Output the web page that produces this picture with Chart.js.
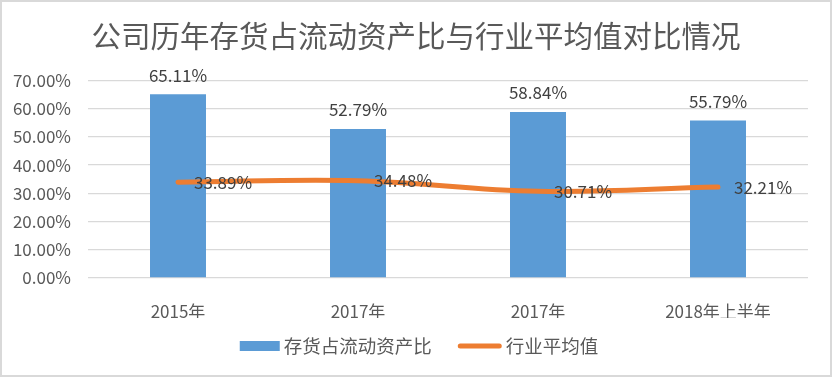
<!DOCTYPE html>
<html>
<head>
    <meta charset="utf-8">
    <title>公司历年存货占流动资产比与行业平均值对比情况</title>
    <script src="https://cdn.jsdelivr.net/npm/chart.js"></script>
    <style>
        body { margin: 0; background: #fff; }
    </style>
</head>
<body>

<canvas id="stockChart" width="832" height="377"></canvas>

<script>
// data (percent)
const years = ['2015年', '2017年', '2017年', '2018年上半年'];
const stockRatio = [65.11, 52.79, 58.84, 55.79];
const industryAvg = [33.89, 34.48, 30.71, 32.21];
const yTicks = [0, 10, 20, 30, 40, 50, 60, 70];

const FONT = '"Noto Sans CJK SC", "Noto Sans", sans-serif';

// white background + thin grey frame
const framePlugin = {
    id: 'frame',
    afterLayout(chart) {
        // centre the title on the whole canvas, not on the padded box
        if (chart.titleBlock) {
            chart.titleBlock.left = 0;
            chart.titleBlock.right = chart.width;
            chart.titleBlock.width = chart.width;
        }
    },
    beforeDraw(chart) {
        const ctx = chart.ctx;
        ctx.save();
        ctx.fillStyle = '#fff';
        ctx.fillRect(0, 0, chart.width, chart.height);
        ctx.strokeStyle = '#d9d9d9';
        ctx.lineWidth = 2;
        ctx.strokeRect(1, 1, chart.width - 2, chart.height - 2);
        ctx.restore();
    }
};

// value labels: above the bars, right of the line points
const valueLabels = {
    id: 'valueLabels',
    afterDatasetsDraw(chart) {
        const ctx = chart.ctx;
        ctx.save();
        ctx.font = '17px ' + FONT;
        ctx.fillStyle = '#404040';
        ctx.textBaseline = 'middle';
        chart.data.datasets.forEach(function(ds, i) {
            const meta = chart.getDatasetMeta(i);
            meta.data.forEach(function(el, j) {
                const txt = ds.data[j].toFixed(2) + '%';
                if (ds.type === 'bar') {
                    ctx.textAlign = 'center';
                    ctx.fillText(txt, el.x, el.y - 19);
                } else {
                    ctx.textAlign = 'left';
                    ctx.fillText(txt, el.x + 16, el.y);
                }
            });
        });
        ctx.restore();
    }
};

// legend drawn like the excel one: wide box for bars, thick line for the line
const bottomLegend = {
    id: 'bottomLegend',
    afterDraw(chart) {
        const ctx = chart.ctx;
        const y = 346;
        ctx.save();
        ctx.font = '18.5px ' + FONT;
        ctx.textBaseline = 'middle';
        ctx.textAlign = 'left';
        const ds = chart.data.datasets;
        const w1 = ctx.measureText(ds[0].label).width;
        const w2 = ctx.measureText(ds[1].label).width;
        const total = 40 + 4 + w1 + 26 + 44 + 4 + w2;
        let x = chart.width / 2 + 3 - total / 2;

        ctx.fillStyle = ds[0].backgroundColor;
        ctx.fillRect(x, y - 5, 40, 10);
        x += 44;
        ctx.fillStyle = '#595959';
        ctx.fillText(ds[0].label, x, y);
        x += w1 + 26;

        ctx.strokeStyle = ds[1].borderColor;
        ctx.lineWidth = 5;
        ctx.lineCap = 'round';
        ctx.beginPath();
        ctx.moveTo(x + 2.5, y);
        ctx.lineTo(x + 44 - 2.5, y);
        ctx.stroke();
        x += 48;
        ctx.fillText(ds[1].label, x, y);
        ctx.restore();
    }
};

document.addEventListener("DOMContentLoaded", function() {
    const ctx = document.getElementById('stockChart').getContext('2d');

    new Chart(ctx, {
        data: {
            labels: years,
            datasets: [{
                type: 'bar',
                label: '存货占流动资产比',
                data: stockRatio,
                backgroundColor: '#5b9bd5',
                barPercentage: 0.311,
                categoryPercentage: 1,
                order: 1
            }, {
                type: 'line',
                label: '行业平均值',
                data: industryAvg,
                borderColor: '#ed7d31',
                backgroundColor: '#ed7d31',
                borderWidth: 5,
                borderCapStyle: 'round',
                tension: 0.4,
                pointRadius: 0,
                fill: false,
                order: 0
            }]
        },
        options: {
            responsive: false,
            animation: false,
            layout: {
                padding: { left: 0, right: 24, top: 0, bottom: 59 }
            },
            scales: {
                x: {
                    grid: { display: false },
                    border: { display: false },
                    ticks: {
                        color: '#595959',
                        font: { family: FONT, size: 17 },
                        padding: 15,
                        maxRotation: 0
                    },
                    afterFit: function(scale) { scale.height = 40; }
                },
                y: {
                    min: 0,
                    max: 70,
                    border: { display: false },
                    grid: { color: '#d9d9d9', lineWidth: 1.3, drawTicks: false },
                    afterBuildTicks: function(scale) {
                        scale.ticks = yTicks.map(function(v) { return { value: v }; });
                    },
                    ticks: {
                        color: '#595959',
                        font: { family: FONT, size: 17 },
                        padding: 17,
                        callback: function(value) {
                            return value.toFixed(2) + '%';
                        }
                    },
                    afterFit: function(scale) { scale.width = 88; }
                }
            },
            plugins: {
                legend: { display: false },
                tooltip: { enabled: false },
                title: {
                    display: true,
                    text: '公司历年存货占流动资产比与行业平均值对比情况',
                    color: '#595959',
                    font: { family: FONT, size: 29.5, weight: 'normal' },
                    padding: { top: 18, bottom: 27 }
                }
            }
        },
        plugins: [framePlugin, valueLabels, bottomLegend]
    });
});
</script>

</body>
</html>
